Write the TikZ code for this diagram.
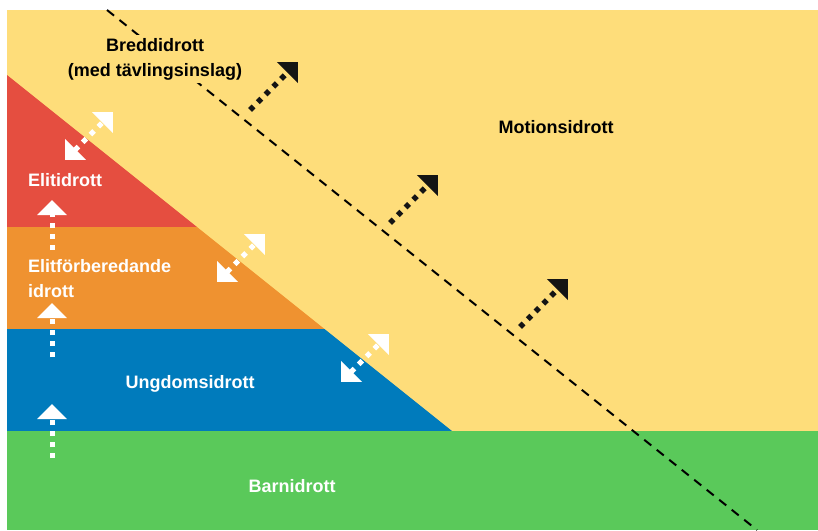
\documentclass[tikz,border=0pt]{standalone}
\usepackage{fontspec}
\setmainfont{Liberation Sans}
\usetikzlibrary{arrows.meta}

\definecolor{motionYellow}{RGB}{254,221,122}
\definecolor{elitRed}{RGB}{229,78,64}
\definecolor{forbOrange}{RGB}{239,146,48}
\definecolor{ungdomBlue}{RGB}{0,123,188}
\definecolor{barnGreen}{RGB}{90,201,90}

\begin{document}
\begin{tikzpicture}
[x=1pt,y=-1pt,
  labelDecorate/.style={font=\bfseries\fontsize{18}{25}\selectfont,inner sep=0pt},
  breakLine/.style={black,line width=2pt,dash pattern=on 9pt off 7pt},
  outDecorate/.style={black!92,line width=5.5pt,dash pattern=on 5pt off 6pt,
    -{Triangle[length=15pt,width=29pt]}},
  upDecorate/.style={white,line width=5pt,dash pattern=on 5pt off 6pt,
    -{Triangle[length=15pt,width=29pt]}},
  swapDecorate/.style={white,line width=5pt,dash pattern=on 5pt off 6pt,
    {Triangle[length=15pt,width=29pt]}-{Triangle[length=15pt,width=29pt]}}]
\useasboundingbox (0,0) rectangle (818,530);

%% levels
\fill[motionYellow] (7,10) rectangle (818,530);
\fill[elitRed] (7,75) -- (197,227) -- (7,227) -- cycle;
\fill[forbOrange] (7,227) -- (197,227) -- (324.5,329) -- (7,329) -- cycle;
\fill[ungdomBlue] (7,329) -- (324.5,329) -- (452,431) -- (7,431) -- cycle;
\fill[barnGreen] (7,431) rectangle (818,530);

%% border between breddidrott and motionsidrott
\coordinate (breakTop) at (107,10);
\coordinate (breakEnd) at (757,530);
\draw[breakLine] (breakTop) -- (breakEnd);

%% labels
\node[labelDecorate,align=center,fill=motionYellow,inner sep=3pt] (bredd) at (155,59) {Breddidrott\\(med tävlingsinslag)};
\node[labelDecorate] (motion) at (556,127) {Motionsidrott};
\node[labelDecorate,white,anchor=west] (elit) at (28,180) {Elitidrott};
\node[labelDecorate,white,anchor=west,align=left] (elitforb) at (28,279) {Elitförberedande\\idrott};
\node[labelDecorate,white] (ungdom) at (190,384) {Ungdomsidrott};
\node[labelDecorate,white] (barn) at (292,486) {Barnidrott};

%% arrows out of breddidrott
\foreach \nodename/\x/\y in {1/250/110, 2/390/223, 3/520/327}
{
  \coordinate (out\nodename) at (\x,\y);
  \coordinate (outTip\nodename) at (\x+48,\y-48);
  \draw[outDecorate] (out\nodename) -- (outTip\nodename);
}

%% arrows across the border
\foreach \nodename/\x/\y in {1/65/160, 2/217/282, 3/341/382}
{
  \coordinate (swapLow\nodename) at (\x,\y);
  \coordinate (swapHigh\nodename) at (\x+48,\y-48);
  \draw[swapDecorate] (swapLow\nodename) -- (swapHigh\nodename);
}

%% arrows between levels
\foreach \nodename/\y/\t in {1/250/200, 2/357/303, 3/458/404}
{
  \coordinate (up\nodename) at (52,\y);
  \coordinate (upTip\nodename) at (52,\t);
  \draw[upDecorate] (up\nodename) -- (upTip\nodename);
}
\end{tikzpicture}
\end{document}
